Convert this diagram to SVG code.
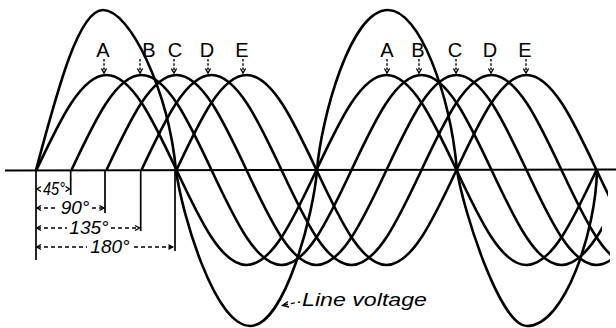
<svg xmlns="http://www.w3.org/2000/svg" xmlns:xlink="http://www.w3.org/1999/xlink" width="616" height="328" viewBox="0 0 616 328">
<style>
.w{fill:none;stroke:#000;stroke-width:2.6;stroke-linejoin:round}
.ax{fill:none;stroke:#000;stroke-width:2}
.ext{fill:none;stroke:#000;stroke-width:1.7}
.dim{fill:none;stroke:#000;stroke-width:1.3;stroke-dasharray:4 3}
.ah{fill:none;stroke:#000;stroke-width:1.4;stroke-linejoin:miter}
.lbl{font-family:"Liberation Sans",Arial,sans-serif;font-size:20px;fill:#000;text-anchor:middle}
.deg{font-family:"Liberation Sans",Arial,sans-serif;font-size:19px;font-style:italic;fill:#000;text-anchor:middle}
.pk{fill:none;stroke:#000;stroke-width:1.4}
</style>
<defs>
<clipPath id="cB"><rect x="0" y="0" width="602" height="328"/></clipPath>
<clipPath id="cC"><rect x="0" y="0" width="610" height="328"/></clipPath>
<clipPath id="cD"><rect x="0" y="0" width="610" height="328"/></clipPath>
<clipPath id="cE"><rect x="0" y="0" width="608" height="328"/></clipPath>
<g id="pkArrow"><path class="pk" d="M0,-15 V-3" stroke-dasharray="2.5 1.8"/><path class="pk" d="M-2.6,-5.5 L0,-1 L2.6,-5.5"/></g>
</defs>

<g id="axis"><line class="ax" x1="5" y1="170.5" x2="616" y2="169.5"/></g>

<g id="wave-A"><path class="w" d="M36.5,170 c23.4,-49.9 44.8,-95 70,-95 s46.6,45.1 70,95 s44.8,95 70,95 s46.6,-45.1 70,-95 s44.8,-95 70,-95 s46.6,45.1 70,95 s44.8,95 70,95 s46.6,-45.1 70,-95"/></g>
<g id="wave-B" clip-path="url(#cB)"><path class="w" d="M71.5,170 c23.4,-49.9 44.8,-95 70,-95 s46.6,45.1 70,95 s44.8,95 70,95 s46.6,-45.1 70,-95 s44.8,-95 70,-95 s46.6,45.1 70,95 s44.8,95 70,95 s46.6,-45.1 70,-95"/></g>
<g id="wave-C" clip-path="url(#cC)"><path class="w" d="M106.5,170 c23.4,-49.9 44.8,-95 70,-95 s46.6,45.1 70,95 s44.8,95 70,95 s46.6,-45.1 70,-95 s44.8,-95 70,-95 s46.6,45.1 70,95 s44.8,95 70,95 s46.6,-45.1 70,-95"/></g>
<g id="wave-D" clip-path="url(#cD)"><path class="w" d="M141.5,170 c23.4,-49.9 44.8,-95 70,-95 s46.6,45.1 70,95 s44.8,95 70,95 s46.6,-45.1 70,-95 s44.8,-95 70,-95 s46.6,45.1 70,95 s44.8,95 70,95 s46.6,-45.1 70,-95"/></g>
<g id="wave-E" clip-path="url(#cE)"><path class="w" d="M176.5,170 c23.4,-49.9 44.8,-95 70,-95 s46.6,45.1 70,95 s44.8,95 70,95 s46.6,-45.1 70,-95 s44.8,-95 70,-95 s46.6,45.1 70,95 s44.8,95 70,95"/></g>

<g id="line-voltage"><path class="w" d="M36,170 C58.4,86 79,10 103,10 C130,10 168,90 176,170 C182,215 215,326 250,326 C285,326 314,212 317,170 C321,120 350,10 388,10 C420,10 450,95 457,170 C463,210 500,326 527,326 C565,326 596,230 597,170"/></g>

<g id="labels-1">
<text class="lbl" x="103" y="57">A</text>
<text class="lbl" x="149" y="57">B</text>
<text class="lbl" x="175" y="57">C</text>
<text class="lbl" x="207" y="57">D</text>
<text class="lbl" x="242" y="57">E</text>
</g>
<g id="labels-2">
<text class="lbl" x="387" y="57">A</text>
<text class="lbl" x="418" y="57">B</text>
<text class="lbl" x="455" y="57">C</text>
<text class="lbl" x="490" y="57">D</text>
<text class="lbl" x="525" y="57">E</text>
</g>
<g id="connectors">
<use xlink:href="#pkArrow" x="104" y="74"/>
<use xlink:href="#pkArrow" x="140" y="74"/>
<use xlink:href="#pkArrow" x="174" y="74"/>
<use xlink:href="#pkArrow" x="208" y="74"/>
<use xlink:href="#pkArrow" x="243" y="74"/>
<use xlink:href="#pkArrow" x="387" y="74"/>
<use xlink:href="#pkArrow" x="419" y="74"/>
<use xlink:href="#pkArrow" x="456" y="74"/>
<use xlink:href="#pkArrow" x="491" y="74"/>
<use xlink:href="#pkArrow" x="526" y="74"/>
<path class="dim" d="M284,305 L300,302"/>
<path class="ah" d="M288,301.5 L282.5,305.5 L289,307"/>
</g>

<g id="dimensions">
<line class="ext" x1="36" y1="170" x2="36" y2="260"/>
<line class="ext" x1="70.7" y1="170" x2="70.7" y2="195"/>
<line class="ext" x1="105" y1="170" x2="105" y2="213"/>
<line class="ext" x1="140.7" y1="170" x2="140.7" y2="231"/>
<line class="ext" x1="175" y1="170" x2="175" y2="251"/>

<path class="ah" d="M41,186.5 L37,189 L41,191.5"/>
<path class="ah" d="M65.5,186.5 L69.5,189 L65.5,191.5"/>
<text class="deg" x="54" y="194.5" font-size="17" textLength="22" lengthAdjust="spacingAndGlyphs">45°</text>

<path class="dim" d="M37,208 H58 M92,208 H104"/>
<path class="ah" d="M41,205.5 L37,208 L41,210.5"/>
<path class="ah" d="M99.5,205.5 L104,208 L99.5,210.5"/>
<text class="deg" x="75" y="214">90°</text>

<path class="dim" d="M37,228 H67 M111,228 H139"/>
<path class="ah" d="M41,225.5 L37,228 L41,230.5"/>
<path class="ah" d="M135,225.5 L139.5,228 L135,230.5"/>
<text class="deg" x="89" y="234">135°</text>

<path class="dim" d="M37,247 H87 M134,247 H174"/>
<path class="ah" d="M41,244.5 L37,247 L41,249.5"/>
<path d="M168.5,244 L174,247 L168.5,250 Z" fill="#000"/>
<text class="deg" x="110" y="253">180°</text>
</g>

<g id="line-voltage-label">
<text class="deg" x="302" y="306" font-size="20" style="text-anchor:start" textLength="125" lengthAdjust="spacingAndGlyphs">Line voltage</text>
</g>
</svg>
